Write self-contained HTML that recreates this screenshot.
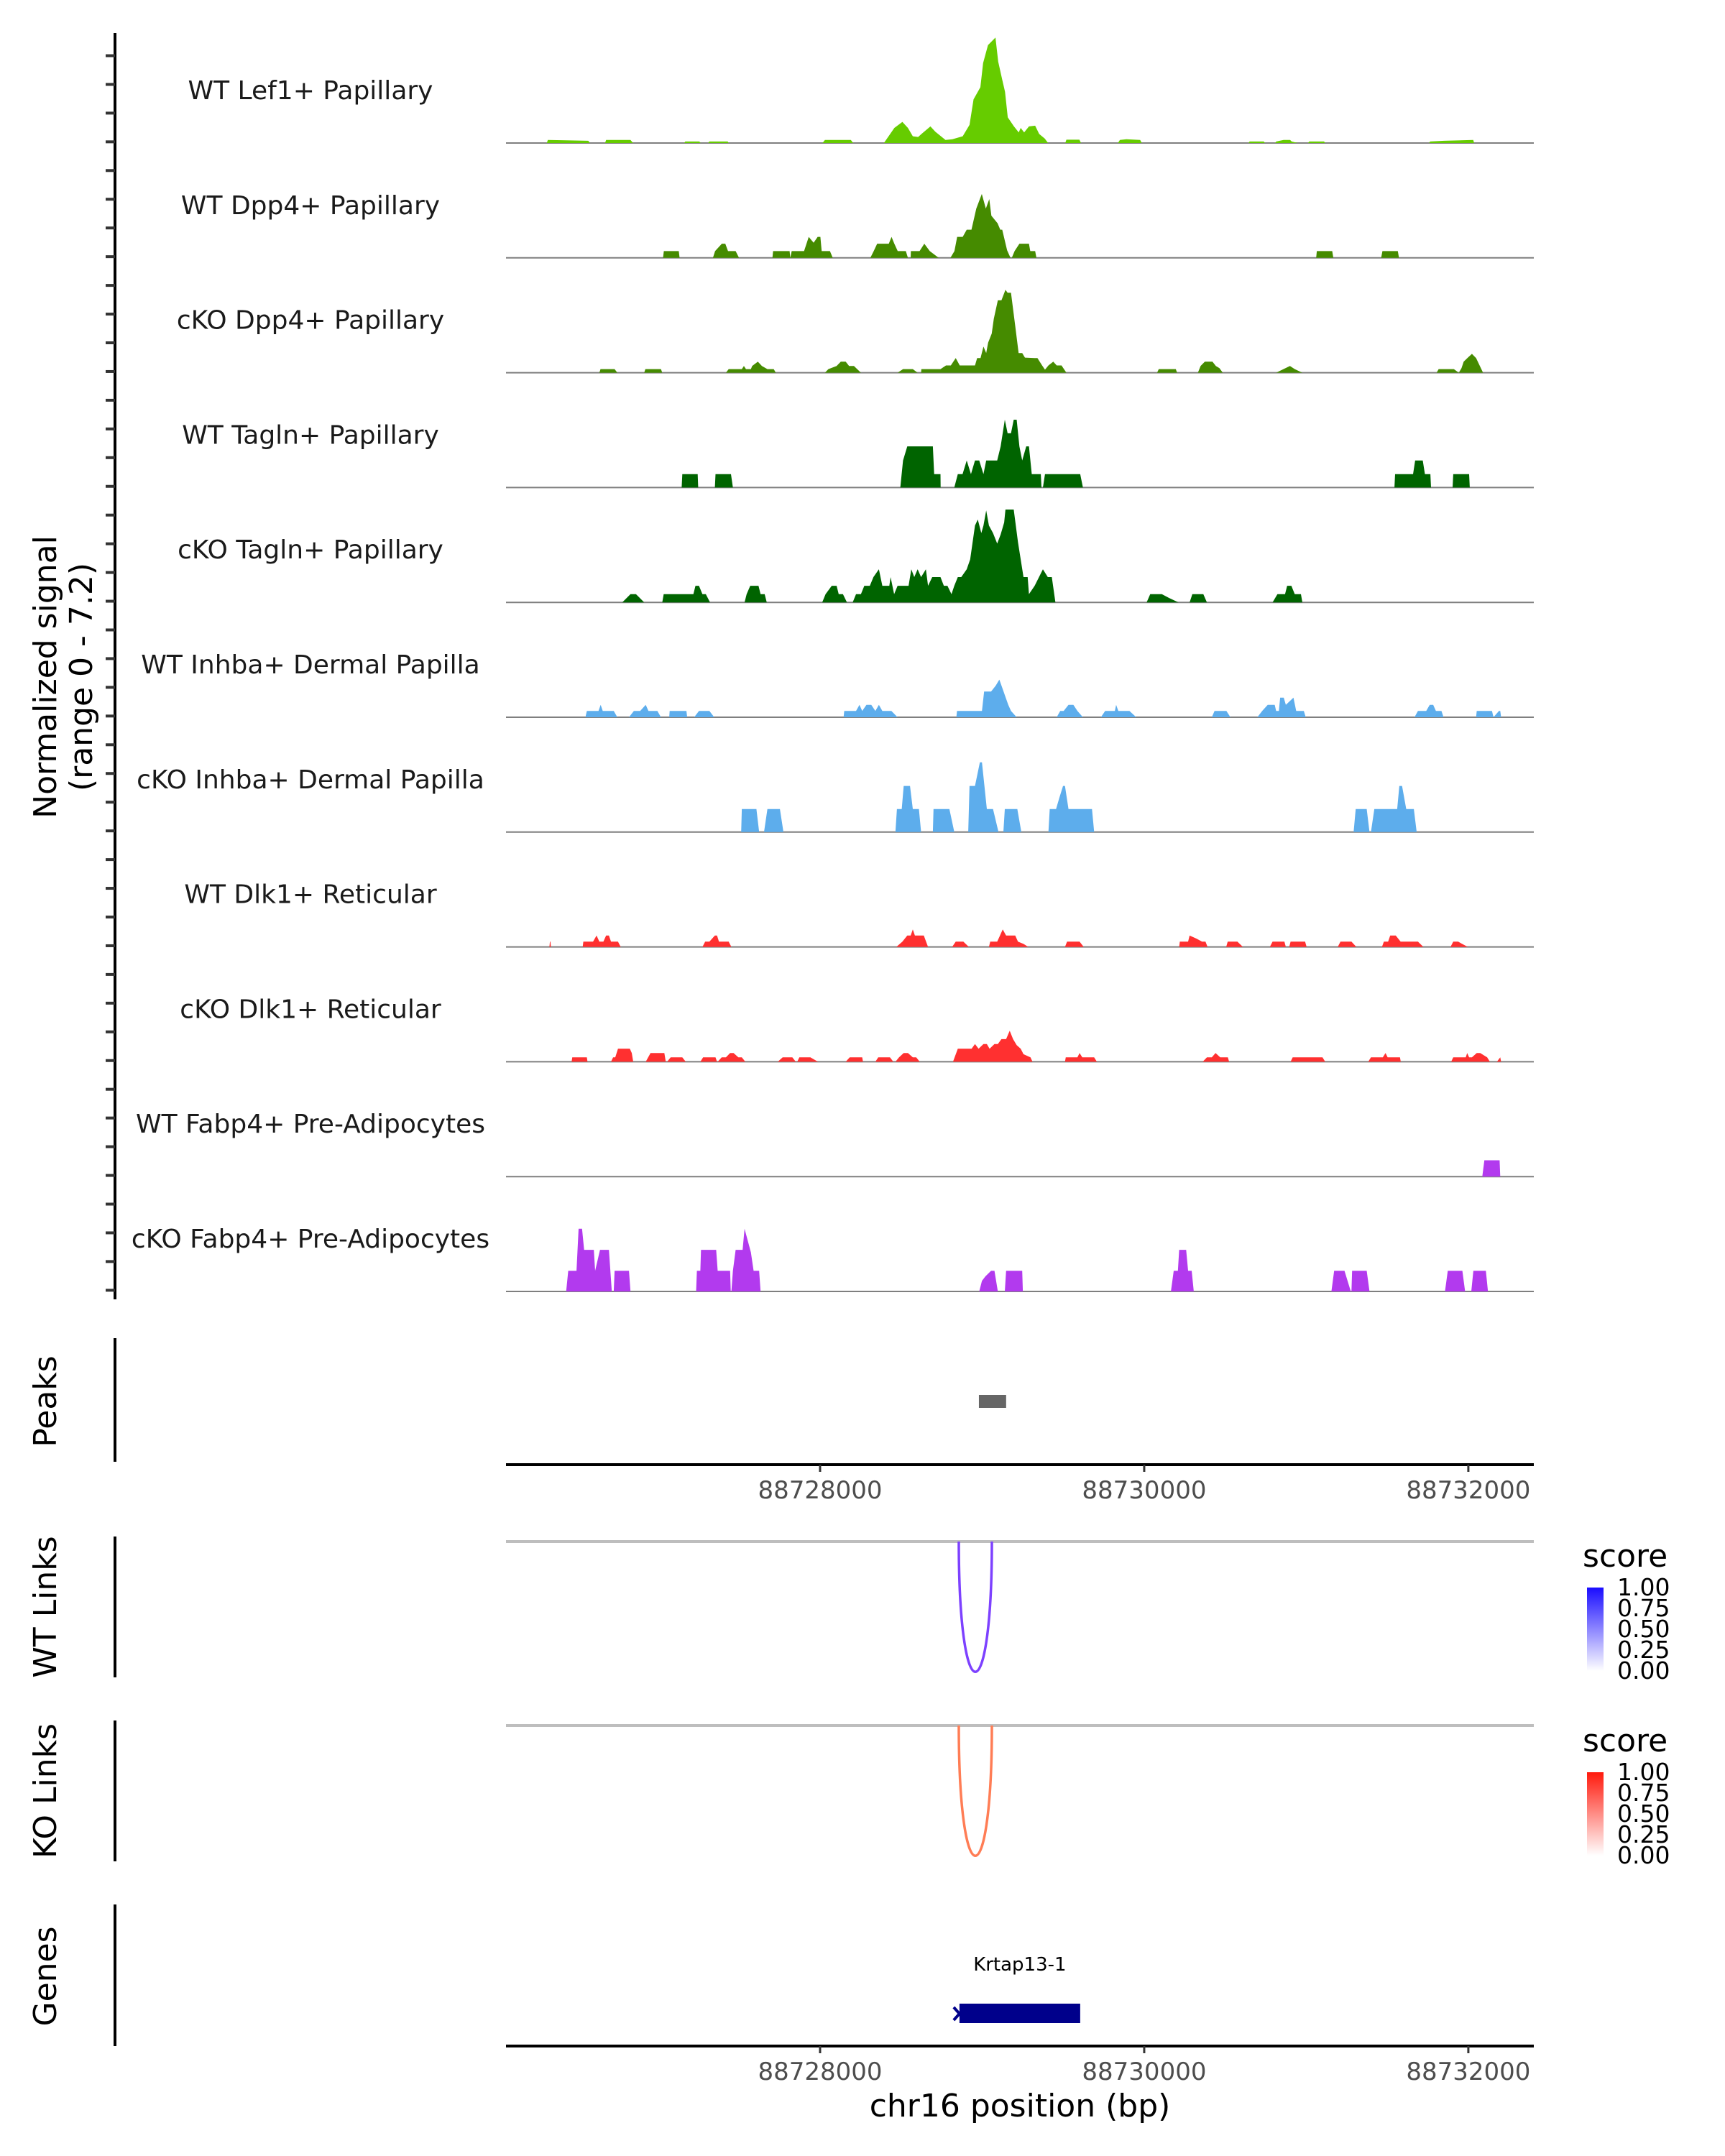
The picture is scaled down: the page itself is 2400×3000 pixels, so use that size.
<!DOCTYPE html>
<html><head><meta charset="utf-8"><style>
html,body{margin:0;padding:0;background:#fff;}
svg{display:block;font-family:"DejaVu Sans","Liberation Sans",sans-serif;}
</style></head><body>
<svg id="chart" width="2400" height="3000" viewBox="0 0 2400 3000" xmlns="http://www.w3.org/2000/svg"></svg>
<script>
const regionStart = 88726062, regionEnd = 88732404;
const axisTicks = [88728000, 88730000, 88732000];
const trackNames = ["WT Lef1+ Papillary","WT Dpp4+ Papillary","cKO Dpp4+ Papillary","WT Tagln+ Papillary","cKO Tagln+ Papillary","WT Inhba+ Dermal Papilla","cKO Inhba+ Dermal Papilla","WT Dlk1+ Reticular","cKO Dlk1+ Reticular","WT Fabp4+ Pre-Adipocytes","cKO Fabp4+ Pre-Adipocytes"];
const trackColors = ["#66cc00","#458b00","#458b00","#006400","#006400","#5dadec","#5dadec","#ff3030","#ff3030","#b23aee","#b23aee"];
const signalMax = 7.2;
const lef1WT = [[88726314,0],[88726320,0.2],[88726570,0.15],[88726580,0],[88726673,0],[88726680,0.2],[88726830,0.2],[88726846,0],[88727162,0],[88727168,0.1],[88727255,0.1],[88727263,0],[88727310,0],[88727316,0.1],[88727430,0.1],[88727436,0],[88728015,0],[88728030,0.2],[88728190,0.2],[88728204,0],[88728394,0],[88728458,1.0],[88728508,1.4],[88728542,1.0],[88728572,0.45],[88728605,0.4],[88728626,0.6],[88728681,1.1],[88728711,0.75],[88728774,0.2],[88728816,0.25],[88728880,0.45],[88728922,1.2],[88728947,2.9],[88728989,3.7],[88729006,5.3],[88729036,6.5],[88729082,7.0],[88729099,5.4],[88729124,4.2],[88729141,3.4],[88729158,1.7],[88729196,1.1],[88729226,0.7],[88729238,1.0],[88729259,0.7],[88729289,1.1],[88729327,1.15],[88729352,0.6],[88729386,0.3],[88729407,0],[88729513,0],[88729520,0.22],[88729600,0.22],[88729610,0],[88729838,0],[88729850,0.2],[88729890,0.25],[88729975,0.2],[88729985,0],[88730644,0],[88730650,0.1],[88730738,0.1],[88730745,0],[88730808,0],[88730815,0.1],[88730860,0.2],[88730900,0.2],[88730910,0.1],[88730947,0],[88731011,0],[88731018,0.1],[88731110,0.1],[88731116,0],[88731758,0],[88731764,0.1],[88731850,0.15],[88732030,0.2],[88732036,0]];
const dpp4WT = [[88727031,0],[88727036,0.45],[88727128,0.45],[88727133,0],[88727339,0],[88727352,0.45],[88727394,0.94],[88727415,0.94],[88727432,0.45],[88727479,0.45],[88727500,0],[88727706,0],[88727710,0.45],[88727812,0.45],[88727816,0],[88727825,0.45],[88727901,0.45],[88727930,1.39],[88727960,1.0],[88727985,1.39],[88728002,1.39],[88728010,0.45],[88728061,0.45],[88728078,0],[88728310,0],[88728331,0.45],[88728352,0.94],[88728424,0.94],[88728441,1.39],[88728458,0.94],[88728479,0.45],[88728529,0.45],[88728542,0],[88728559,0],[88728560,0.45],[88728614,0.45],[88728643,0.94],[88728677,0.45],[88728732,0],[88728804,0],[88728829,0.45],[88728846,1.39],[88728880,1.39],[88728905,1.87],[88728934,1.87],[88728964,3.27],[88728998,4.24],[88729023,3.27],[88729044,3.9],[88729057,2.8],[88729095,2.3],[88729112,1.87],[88729124,1.87],[88729154,0.5],[88729175,0],[88729183,0],[88729200,0.45],[88729230,0.94],[88729289,0.94],[88729297,0.45],[88729327,0.45],[88729335,0],[88731061,0],[88731065,0.45],[88731160,0.45],[88731167,0],[88731462,0],[88731470,0.45],[88731565,0.45],[88731572,0]];
const dpp4KO = [[88726638,0],[88726645,0.24],[88726732,0.24],[88726749,0],[88726915,0],[88726922,0.24],[88727018,0.24],[88727026,0],[88727419,0],[88727436,0.24],[88727517,0.24],[88727530,0.45],[88727543,0.24],[88727573,0.24],[88727581,0.45],[88727616,0.73],[88727641,0.45],[88727675,0.24],[88727714,0.24],[88727727,0],[88728030,0],[88728051,0.24],[88728102,0.45],[88728128,0.73],[88728158,0.73],[88728179,0.45],[88728209,0.45],[88728252,0],[88728478,0],[88728512,0.24],[88728572,0.24],[88728602,0],[88728623,0],[88728625,0.24],[88728743,0.24],[88728777,0.48],[88728807,0.48],[88728837,0.97],[88728862,0.48],[88728956,0.48],[88728969,0.97],[88728990,0.97],[88729008,1.73],[88729025,1.3],[88729037,2.0],[88729059,2.6],[88729072,3.58],[88729097,4.8],[88729119,4.8],[88729144,5.5],[88729157,5.3],[88729178,5.3],[88729204,3.1],[88729225,1.3],[88729247,1.3],[88729264,1.0],[88729324,0.97],[88729341,0.97],[88729370,0.48],[88729388,0.2],[88729409,0.48],[88729439,0.73],[88729460,0.48],[88729490,0.48],[88729520,0],[88730079,0],[88730090,0.24],[88730195,0.24],[88730203,0],[88730331,0],[88730348,0.45],[88730374,0.73],[88730421,0.73],[88730442,0.45],[88730464,0.3],[88730485,0],[88730814,0],[88730899,0.45],[88730929,0.24],[88730976,0],[88731804,0],[88731817,0.24],[88731911,0.24],[88731941,0],[88731958,0.3],[88731971,0.73],[88731997,1.0],[88732022,1.25],[88732048,0.97],[88732091,0]];
const taglnWT = [[88727146,0],[88727150,0.89],[88727245,0.89],[88727248,0],[88727351,0],[88727355,0.89],[88727450,0.89],[88727462,0],[88728495,0],[88728512,1.8],[88728538,2.73],[88728696,2.73],[88728704,0.89],[88728743,0.89],[88728744,0],[88728828,0],[88728850,0.89],[88728879,0.89],[88728905,1.8],[88728931,0.89],[88728956,1.8],[88728982,1.8],[88729008,0.89],[88729025,1.8],[88729093,1.8],[88729114,2.73],[88729140,4.5],[88729157,3.6],[88729178,3.6],[88729195,4.5],[88729213,4.5],[88729230,2.73],[88729247,1.8],[88729272,2.73],[88729289,2.73],[88729306,0.89],[88729362,0.89],[88729366,0],[88729375,0],[88729388,0.89],[88729605,0.89],[88729622,0],[88731544,0],[88731548,0.89],[88731659,0.89],[88731672,1.8],[88731719,1.8],[88731732,0.89],[88731766,0.89],[88731770,0],[88731903,0],[88731907,0.89],[88732005,0.89],[88732009,0]];
const taglnKO = [[88726779,0],[88726830,0.55],[88726864,0.55],[88726915,0],[88727026,0],[88727035,0.55],[88727218,0.55],[88727231,1.1],[88727253,1.1],[88727274,0.55],[88727295,0.55],[88727321,0],[88727534,0],[88727547,0.55],[88727569,1.1],[88727620,1.1],[88727633,0.55],[88727658,0.55],[88727671,0],[88728013,0],[88728034,0.55],[88728072,1.1],[88728102,1.1],[88728115,0.55],[88728141,0.55],[88728166,0],[88728201,0],[88728222,0.55],[88728252,0.55],[88728273,1.1],[88728307,1.1],[88728329,1.68],[88728363,2.2],[88728384,1.1],[88728427,1.1],[88728435,1.68],[88728457,0.55],[88728478,1.1],[88728546,1.1],[88728563,2.2],[88728581,1.68],[88728602,2.2],[88728623,1.68],[88728653,2.2],[88728666,1.1],[88728692,1.68],[88728743,1.68],[88728764,1.1],[88728786,1.1],[88728811,0.55],[88728828,1.1],[88728850,1.68],[88728871,1.68],[88728905,2.2],[88728926,2.85],[88728956,5.1],[88728973,5.5],[88728995,4.6],[88729008,5.1],[88729025,6.1],[88729042,5.1],[88729067,4.6],[88729093,3.9],[88729114,4.5],[88729136,5.3],[88729144,6.16],[88729195,6.16],[88729221,4.0],[88729255,1.68],[88729281,1.68],[88729289,0.55],[88729324,1.1],[88729375,2.2],[88729405,1.68],[88729430,1.68],[88729452,0],[88730015,0],[88730037,0.55],[88730109,0.55],[88730152,0.3],[88730212,0],[88730280,0],[88730297,0.55],[88730365,0.55],[88730387,0],[88730792,0],[88730822,0.55],[88730869,0.55],[88730882,1.1],[88730908,1.1],[88730929,0.55],[88730967,0.55],[88730976,0]];
const inhbaWT = [[88726552,0],[88726561,0.42],[88726633,0.42],[88726646,0.82],[88726659,0.42],[88726727,0.42],[88726749,0],[88726821,0],[88726851,0.42],[88726890,0.42],[88726924,0.82],[88726941,0.42],[88726996,0.42],[88727018,0],[88727069,0],[88727072,0.42],[88727175,0.42],[88727180,0],[88727223,0],[88727253,0.42],[88727317,0.42],[88727347,0],[88728145,0],[88728149,0.42],[88728222,0.42],[88728243,0.82],[88728260,0.42],[88728286,0.82],[88728316,0.82],[88728341,0.42],[88728363,0.82],[88728384,0.42],[88728440,0.42],[88728478,0],[88728841,0],[88728845,0.42],[88728999,0.42],[88729012,1.7],[88729055,1.7],[88729084,2.1],[88729106,2.5],[88729161,0.82],[88729178,0.42],[88729213,0],[88729460,0],[88729482,0.42],[88729503,0.42],[88729533,0.82],[88729563,0.82],[88729588,0.42],[88729622,0],[88729733,0],[88729759,0.42],[88729819,0.42],[88729827,0.82],[88729840,0.42],[88729909,0.42],[88729951,0],[88730417,0],[88730434,0.42],[88730507,0.42],[88730532,0],[88730698,0],[88730728,0.42],[88730762,0.82],[88730805,0.82],[88730814,0.42],[88730831,0.42],[88730839,1.3],[88730861,1.3],[88730874,0.82],[88730921,1.3],[88730938,0.42],[88730985,0.42],[88730997,0],[88731668,0],[88731689,0.42],[88731740,0.42],[88731762,0.82],[88731783,0.82],[88731800,0.42],[88731834,0.42],[88731847,0],[88732048,0],[88732052,0.42],[88732146,0.42],[88732155,0],[88732189,0.42],[88732197,0.42],[88732202,0]];
const inhbaKO = [[88727513,0],[88727517,1.53],[88727607,1.53],[88727624,0],[88727654,0],[88727675,1.53],[88727752,1.53],[88727774,0],[88728465,0],[88728474,1.53],[88728504,1.53],[88728516,3.06],[88728555,3.06],[88728572,1.53],[88728610,1.53],[88728623,0],[88728696,0],[88728700,1.53],[88728798,1.53],[88728828,0],[88728914,0],[88728922,3.06],[88728956,3.06],[88728986,4.63],[88728999,4.63],[88729029,1.53],[88729067,1.53],[88729101,0],[88729131,0],[88729140,1.53],[88729217,1.53],[88729242,0],[88729409,0],[88729417,1.53],[88729456,1.53],[88729477,2.3],[88729499,3.06],[88729511,3.06],[88729533,1.53],[88729678,1.53],[88729691,0],[88731292,0],[88731305,1.53],[88731373,1.53],[88731390,0],[88731399,0],[88731420,1.53],[88731561,1.53],[88731574,3.06],[88731591,3.06],[88731617,1.53],[88731664,1.53],[88731681,0]];
const dlk1WT = [[88726330,0],[88726333,0.35],[88726336,0.35],[88726339,0],[88726535,0],[88726539,0.35],[88726599,0.35],[88726621,0.76],[88726638,0.35],[88726663,0.35],[88726680,0.76],[88726697,0.76],[88726710,0.35],[88726753,0.35],[88726770,0],[88727274,0],[88727291,0.35],[88727317,0.35],[88727351,0.76],[88727364,0.76],[88727376,0.35],[88727436,0.35],[88727453,0],[88728470,0],[88728508,0.35],[88728538,0.76],[88728559,0.76],[88728572,1.16],[88728585,0.76],[88728640,0.76],[88728666,0],[88728815,0],[88728837,0.35],[88728884,0.35],[88728918,0],[88729042,0],[88729050,0.35],[88729093,0.35],[88729110,0.76],[88729127,1.16],[88729148,0.76],[88729204,0.76],[88729221,0.35],[88729255,0.2],[88729285,0],[88729511,0],[88729524,0.35],[88729601,0.35],[88729627,0],[88730216,0],[88730220,0.35],[88730271,0.35],[88730280,0.76],[88730323,0.55],[88730357,0.35],[88730378,0.35],[88730391,0],[88730506,0],[88730515,0.35],[88730575,0.35],[88730609,0],[88730775,0],[88730792,0.35],[88730865,0.35],[88730874,0],[88730895,0],[88730903,0.35],[88730993,0.35],[88731002,0],[88731194,0],[88731211,0.35],[88731279,0.35],[88731309,0],[88731467,0],[88731479,0.35],[88731505,0.35],[88731518,0.76],[88731552,0.76],[88731582,0.35],[88731689,0.35],[88731723,0],[88731890,0],[88731907,0.35],[88731937,0.35],[88731997,0]];
const dlk1KO = [[88726467,0],[88726471,0.29],[88726561,0.29],[88726565,0],[88726710,0],[88726723,0.29],[88726736,0.29],[88726753,0.87],[88726826,0.87],[88726838,0.58],[88726847,0],[88726924,0],[88726954,0.58],[88727039,0.58],[88727048,0],[88727056,0],[88727078,0.29],[88727150,0.29],[88727171,0],[88727261,0],[88727278,0.29],[88727355,0.29],[88727364,0],[88727368,0],[88727393,0.29],[88727419,0.29],[88727445,0.58],[88727466,0.58],[88727496,0.29],[88727517,0.29],[88727539,0],[88727739,0],[88727769,0.29],[88727829,0.29],[88727850,0],[88727859,0],[88727872,0.29],[88727940,0.29],[88727987,0],[88728158,0],[88728183,0.29],[88728260,0.29],[88728265,0],[88728341,0],[88728359,0.29],[88728431,0.29],[88728452,0],[88728465,0],[88728487,0.29],[88728516,0.58],[88728542,0.58],[88728572,0.29],[88728593,0.29],[88728615,0],[88728820,0],[88728850,0.87],[88728935,0.87],[88728956,1.18],[88728978,0.87],[88729008,1.18],[88729029,1.18],[88729046,0.87],[88729076,1.18],[88729097,1.18],[88729119,1.5],[88729148,1.5],[88729170,2.06],[88729191,1.5],[88729213,1.1],[88729238,0.87],[88729255,0.5],[88729298,0.29],[88729311,0],[88729511,0],[88729516,0.29],[88729588,0.29],[88729601,0.58],[88729618,0.29],[88729691,0.29],[88729708,0],[88730361,0],[88730387,0.29],[88730417,0.29],[88730440,0.58],[88730469,0.29],[88730516,0.29],[88730524,0],[88730903,0],[88730916,0.29],[88731100,0.29],[88731117,0],[88731382,0],[88731399,0.29],[88731472,0.29],[88731489,0.58],[88731502,0.29],[88731578,0.29],[88731583,0],[88731894,0],[88731907,0.29],[88731984,0.29],[88731993,0.58],[88732005,0.29],[88732022,0.29],[88732052,0.58],[88732073,0.58],[88732116,0.29],[88732133,0],[88732176,0],[88732197,0.29],[88732202,0]];
const fabp4WT = [[88732086,0],[88732099,1.08],[88732193,1.08],[88732197,0]];
const fabp4KO = [[88726433,0],[88726446,1.37],[88726497,1.37],[88726510,4.16],[88726531,4.16],[88726544,2.76],[88726604,2.76],[88726612,1.37],[88726642,2.76],[88726697,2.76],[88726715,0],[88726727,0],[88726732,1.37],[88726821,1.37],[88726830,0],[88727235,0],[88727240,1.37],[88727261,1.37],[88727265,2.76],[88727359,2.76],[88727368,1.37],[88727445,1.37],[88727449,0],[88727453,0],[88727462,1.37],[88727479,2.76],[88727522,2.76],[88727534,4.16],[88727573,2.6],[88727590,1.37],[88727624,1.37],[88727633,0],[88728982,0],[88728999,0.7],[88729020,1.0],[88729055,1.37],[88729076,1.37],[88729097,0],[88729140,0],[88729148,1.37],[88729247,1.37],[88729251,0],[88730165,0],[88730182,1.37],[88730208,1.37],[88730216,2.76],[88730259,2.76],[88730271,1.37],[88730293,1.37],[88730306,0],[88731155,0],[88731172,1.37],[88731236,1.37],[88731275,0],[88731279,0],[88731283,1.37],[88731373,1.37],[88731390,0],[88731856,0],[88731873,1.37],[88731963,1.37],[88731980,0],[88732018,0],[88732031,1.37],[88732108,1.37],[88732121,0]];
const peakStarts = [88728980];
const peakEnds = [88729148];
const wtLinkStarts = [88728856], wtLinkEnds = [88729060], wtLinkScores = [0.55];
const koLinkStarts = [88728856], koLinkEnds = [88729060], koLinkScores = [0.55];
const geneNames = ["Krtap13-1"], geneStarts = [88728860], geneEnds = [88729605];
const legendTicks = ["1.00","0.75","0.50","0.25","0.00"];

const trackData = [lef1WT,dpp4WT,dpp4KO,taglnWT,taglnKO,inhbaWT,inhbaKO,dlk1WT,dlk1KO,fabp4WT,fabp4KO];
const NS = "http://www.w3.org/2000/svg";
const svg = document.getElementById("chart");
const X0 = 704, X1 = 2134;
function xScale(bp){ return X0 + (bp - regionStart) / (regionEnd - regionStart) * (X1 - X0); }
const base0 = 199, trackStep = 159.8, trackH = 151;
function yScale(i, v){ return base0 + i*trackStep - v / signalMax * trackH; }
function el(tag, attrs, parent){ const e = document.createElementNS(NS, tag); for (const k in attrs) e.setAttribute(k, attrs[k]); (parent||svg).appendChild(e); return e; }
function txt(s, attrs, parent){ const t = el("text", attrs, parent); t.textContent = s; return t; }

let e = el("line",{x1:160,y1:46,x2:160,y2:1808,stroke:"#000","stroke-width":4});


for (let y = 77.5; y <= 1810; y += 39.95) {
  e = el("line",{x1:147,y1:y,x2:160,y2:y,stroke:"#333","stroke-width":4});
  
  
}
e = txt("Normalized signal",{x:0,y:0,"font-size":44,"text-anchor":"middle",transform:"translate(78,942) rotate(-90)",fill:"#000"});


e = txt("(range 0 - 7.2)",{x:0,y:0,"font-size":44,"text-anchor":"middle",transform:"translate(128,942) rotate(-90)",fill:"#000"});



trackData.forEach((pts, i) => {
  const base = yScale(i, 0);
  const g = el("g",{});
  
  
  const lab = txt(trackNames[i],{x:432,y:base-61,"font-size":36,"text-anchor":"middle",fill:"#1a1a1a"},g);
  
  
  const bl = el("line",{x1:X0,y1:base,x2:X1,y2:base,stroke:"#7f7f7f","stroke-width":2},g);
  
  
  let d = "M" + xScale(pts[0][0]).toFixed(1) + "," + base;
  pts.forEach(p => { d += "L" + xScale(p[0]).toFixed(1) + "," + yScale(i, p[1]).toFixed(1); });
  d += "L" + xScale(pts[pts.length-1][0]).toFixed(1) + "," + base + "Z";
  const area = el("path",{d:d,fill:trackColors[i],stroke:"none"},g);
  
  
});

e = el("line",{x1:160,y1:1862,x2:160,y2:2034,stroke:"#000","stroke-width":4});


e = txt("Peaks",{x:0,y:0,"font-size":44,"text-anchor":"middle",transform:"translate(78,1950) rotate(-90)"});


peakStarts.forEach((s, k) => {
  const r = el("rect",{x:xScale(s),y:1941,width:xScale(peakEnds[k])-xScale(s),height:18,fill:"#666"});
  
  
});
function xAxis(y, name){
  const a = el("line",{x1:X0,y1:y,x2:X1,y2:y,stroke:"#000","stroke-width":4});
  
  
  axisTicks.forEach(t => {
    const tk = el("line",{x1:xScale(t),y1:y,x2:xScale(t),y2:y+10,stroke:"#333","stroke-width":3});
    
    
    const tl = txt(String(t),{x:xScale(t),y:y+47,"font-size":34,"text-anchor":"middle",fill:"#4d4d4d"});
    
    
  });
}
xAxis(2038,'x-axis-top');

function linkPanel(top, bottom, lineY, label, starts, ends, scores, hue, legendY, gradId){
  const ax = el("line",{x1:160,y1:top,x2:160,y2:bottom,stroke:"#000","stroke-width":4});
  
  
  const lb = txt(label,{x:0,y:0,"font-size":44,"text-anchor":"middle",transform:"translate(78,"+((top+bottom)/2)+") rotate(-90)"});
  
  
  const gl = el("line",{x1:X0,y1:lineY,x2:X1,y2:lineY,stroke:"#bebebe","stroke-width":4});
  
  
  starts.forEach((s,k) => {
    const xa = xScale(s), xb = xScale(ends[k]);
    const depth = (xb - xa) * 3.95;
    const c = hue==="blue" ? `rgb(${Math.round(255*(1-scores[k]))+10},${Math.round(255*(1-scores[k]))-50},255)` : `rgb(255,${Math.round(255*(1-scores[k]))+10},${Math.round(255*(1-scores[k]))-30})`;
    const p = el("path",{d:`M${xa},${lineY} C${xa},${lineY+depth*1.33} ${xb},${lineY+depth*1.33} ${xb},${lineY}`,fill:"none",stroke:c,"stroke-width":3.5});
    
    
  });
  const defs = el("defs",{});
  const lg = el("linearGradient",{id:gradId,x1:0,y1:1,x2:0,y2:0},defs);
  el("stop",{offset:"0","stop-color":"#ffffff"},lg);
  el("stop",{offset:"1","stop-color":hue==="blue"?"#1a0dff":"#ff1a0d"},lg);
  const lt = txt("score",{x:2202,y:legendY,"font-size":44,fill:"#000"});
  
  
  const bar = el("rect",{x:2208,y:legendY+29,width:23,height:116,fill:`url(#${gradId})`});
  
  
  legendTicks.forEach((t,k) => {
    const ty = legendY + 29 + k*29;
    const tt = txt(t,{x:2250,y:ty+11,"font-size":33,fill:"#000"});
    
    
  });
}
linkPanel(2138,2334,2145,"WT Links",wtLinkStarts,wtLinkEnds,wtLinkScores,"blue",2180,"gblue");
linkPanel(2394,2590,2401,"KO Links",koLinkStarts,koLinkEnds,koLinkScores,"red",2437,"gred");

e = el("line",{x1:160,y1:2650,x2:160,y2:2847,stroke:"#000","stroke-width":4});


e = txt("Genes",{x:0,y:0,"font-size":44,"text-anchor":"middle",transform:"translate(78,2750) rotate(-90)"});


geneNames.forEach((n,k) => {
  const xa = xScale(geneStarts[k]), xb = xScale(geneEnds[k]);
  const gt = txt(n,{x:(xa+xb)/2,y:2742,"font-size":26,"text-anchor":"middle",fill:"#000"});
  
  
  const gb = el("rect",{x:xa,y:2788,width:xb-xa,height:27,fill:"#00008b"});
  
  
  const ar = el("path",{d:`M${xa-8},${2793} L${xa},${2802} L${xa-8},${2811}`,fill:"none",stroke:"#00008b","stroke-width":4});
  
  
});
xAxis(2847,'x-axis-bottom');
e = txt("chr16 position (bp)",{x:(X0+X1)/2,y:2945,"font-size":44,"text-anchor":"middle",fill:"#000"});


</script>
</body></html>
